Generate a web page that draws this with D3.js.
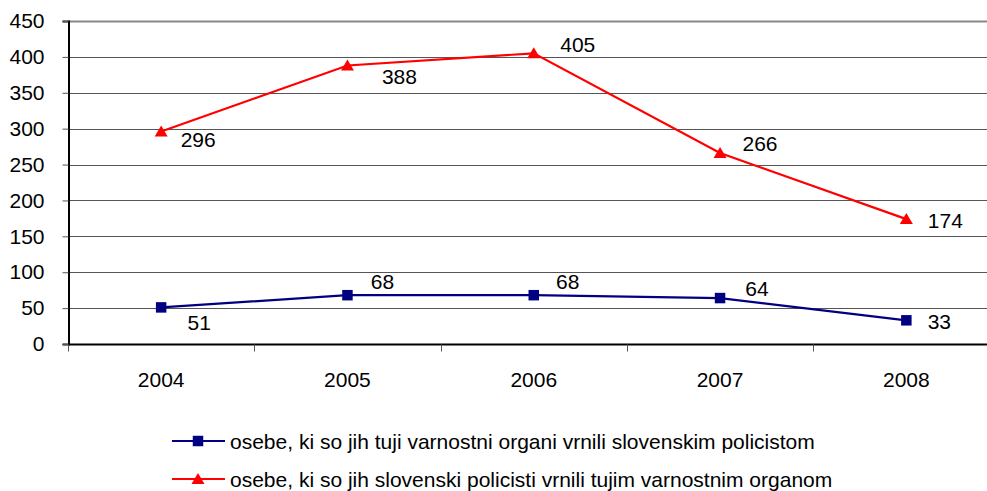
<!DOCTYPE html>
<html>
<head>
<meta charset="utf-8">
<script src="https://cdn.jsdelivr.net/npm/d3@7"></script>
<style>
  body { margin: 0; background: #fff; }
  text { font-family: "Liberation Sans", Arial, sans-serif; fill: #000; }
</style>
</head>
<body>
<svg id="chart"></svg>
<script>
const years = ['2004', '2005', '2006', '2007', '2008'];
const returnedToSlovenia = [51, 68, 68, 64, 33];
const returnedAbroad = [296, 388, 405, 266, 174];
const yTicks = [0, 50, 100, 150, 200, 250, 300, 350, 400, 450];
const seriesNames = [
  'osebe, ki so jih tuji varnostni organi vrnili slovenskim policistom',
  'osebe, ki so jih slovenski policisti vrnili tujim varnostnim organom',
];

const WIDTH = 987;
const HEIGHT = 491;
const FONT = 21;

// label offsets relative to the point, per series
const blueOffsets = [[38, 15], [35, -14], [34, -14], [37, -10], [33, 1]];
const redOffsets = [[37, 8], [52, 11], [44, -9], [40, -10], [39, 1]];

const svg = d3.select('#chart').attr('width', WIDTH).attr('height', HEIGHT);

const x = d3.scaleBand().domain(years).range([68, 999.5]);
const y = d3.scaleLinear().domain([0, 450]).range([344, 21]);

// gridlines
svg.append('g')
  .selectAll('line')
  .data(yTicks.filter((d) => d > 0))
  .join('line')
  .attr('x1', 68)
  .attr('x2', WIDTH)
  .attr('y1', (d) => Math.round(y(d)) + 0.5)
  .attr('y2', (d) => Math.round(y(d)) + 0.5)
  .attr('stroke', (d) => (d === 450 ? '#888' : '#555'))
  .attr('stroke-width', (d) => (d === 450 ? 2 : 1));

// y axis
const yAxis = svg.append('g')
  .attr('transform', 'translate(68.5,0)')
  .call(d3.axisLeft(y).tickValues(yTicks).tickSize(6).tickPadding(18));
yAxis.select('.domain').attr('stroke', '#000').attr('stroke-width', 2);
yAxis.selectAll('.tick line').attr('stroke', '#555');
yAxis.selectAll('text').style('font-size', `${FONT}px`).attr('font-family', null);

// x axis
const xAxis = svg.append('g')
  .attr('transform', `translate(0,${Math.round(y(0)) + 0.5})`);
xAxis.append('line')
  .attr('x1', 68).attr('x2', WIDTH)
  .attr('stroke', '#000').attr('stroke-width', 2);
xAxis.selectAll('.tick')
  .data(years)
  .join('line')
  .attr('class', 'tick')
  .attr('x1', (d) => Math.round(x(d)) + 0.5)
  .attr('x2', (d) => Math.round(x(d)) + 0.5)
  .attr('y1', 0)
  .attr('y2', 7)
  .attr('stroke', '#555');
xAxis.selectAll('.label')
  .data(years)
  .join('text')
  .attr('class', 'label')
  .attr('x', (d) => x(d) + x.bandwidth() / 2)
  .attr('y', 42)
  .attr('text-anchor', 'middle')
  .style('font-size', `${FONT}px`)
  .text((d) => d);

const cx = (i) => x(years[i]) + x.bandwidth() / 2;
const line = d3.line().x((d, i) => cx(i)).y((d) => y(d));

const drawSeries = (values, color, marker, offsets) => {
  const g = svg.append('g');
  g.append('path')
    .datum(values)
    .attr('d', line)
    .attr('fill', 'none')
    .attr('stroke', color)
    .attr('stroke-width', 2.2);
  g.selectAll('.marker')
    .data(values)
    .join('path')
    .attr('class', 'marker')
    .attr('transform', (d, i) => `translate(${cx(i)},${y(d)})`)
    .attr('d', marker)
    .attr('fill', color);
  g.selectAll('.value')
    .data(values)
    .join('text')
    .attr('class', 'value')
    .attr('x', (d, i) => cx(i) + offsets[i][0])
    .attr('y', (d, i) => y(d) + offsets[i][1])
    .attr('text-anchor', 'middle')
    .attr('dominant-baseline', 'central')
    .style('font-size', `${FONT}px`)
    .text((d) => d);
};

const square = d3.symbol(d3.symbolSquare, 110)();
const triangle = 'M0,-6L6.5,5L-6.5,5Z';

drawSeries(returnedToSlovenia, '#000080', square, blueOffsets);
drawSeries(returnedAbroad, '#ff0000', triangle, redOffsets);

// legend
const legend = svg.append('g').attr('transform', 'translate(172,0)');
const legendRows = [
  { name: seriesNames[0], color: '#000080', marker: square, y: 441 },
  { name: seriesNames[1], color: '#ff0000', marker: triangle, y: 479 },
];
const item = legend.selectAll('g')
  .data(legendRows)
  .join('g')
  .attr('transform', (d) => `translate(0,${d.y})`);
item.append('line')
  .attr('x1', 0).attr('x2', 53)
  .attr('stroke', (d) => d.color)
  .attr('stroke-width', 2.2);
item.append('path')
  .attr('transform', 'translate(26,0)')
  .attr('d', (d) => d.marker)
  .attr('fill', (d) => d.color);
item.append('text')
  .attr('x', 58)
  .attr('dominant-baseline', 'central')
  .style('font-size', `${FONT}px`)
  .text((d) => d.name);
</script>
</body>
</html>
